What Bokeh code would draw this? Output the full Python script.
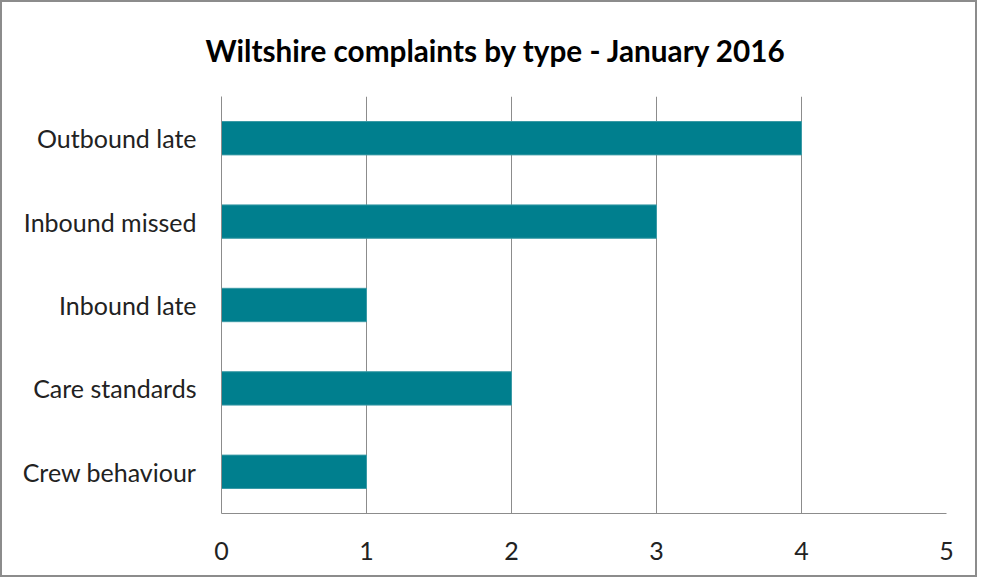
from bokeh.plotting import figure
from bokeh.embed import file_html
from bokeh.resources import INLINE
from bokeh.models import ColumnDataSource, Range1d, FixedTicker

title_text = "Wiltshire complaints  by type - January 2016"
categories = ["Crew behaviour", "Care standards", "Inbound late", "Inbound missed", "Outbound late"]
counts = [1, 2, 1, 3, 4]
x_ticks = [0, 1, 2, 3, 4, 5]

pos = list(range(len(categories)))
src = ColumnDataSource(dict(pos=pos, cat=categories, val=counts))

p = figure(width=977, height=577, output_backend="svg", toolbar_location=None,
           y_range=Range1d(-0.5, len(categories) - 0.5), x_range=Range1d(0, 5),
           title=title_text)
p.min_border_left = 219
p.min_border_right = 33
p.min_border_bottom = 66
p.min_border_top = 94

p.title.align = "left"
p.title.offset = -16
p.title.standoff = 57
p.title.text_font = "Lato"
p.title.text_font_size = "29.7px"
p.title.text_font_style = "bold"
p.title.text_color = "#000000"

p.hbar(y="pos", right="val", left=0, height=0.4, source=src,
       fill_color="#007F8E", line_color="#3a9aa6", line_width=1)

p.outline_line_color = None
p.xgrid.ticker = FixedTicker(ticks=x_ticks)
p.xgrid.grid_line_color = "#8c8c8c"
p.ygrid.grid_line_color = None
p.xaxis.ticker = FixedTicker(ticks=x_ticks)
p.xaxis.axis_line_color = "#8c8c8c"
p.xaxis.major_tick_line_color = None
p.xaxis.minor_tick_line_color = None
p.xaxis.major_label_standoff = 22
p.xaxis.major_label_text_font = "Lato"
p.xaxis.major_label_text_font_size = "25px"
p.xaxis.major_label_text_color = "#222222"

p.yaxis.ticker = FixedTicker(ticks=pos)
p.yaxis.major_label_overrides = {i: c for i, c in zip(pos, categories)}
p.yaxis.axis_line_color = "#8c8c8c"
p.yaxis.major_tick_line_color = None
p.yaxis.minor_tick_line_color = None
p.yaxis.major_label_standoff = 19
p.yaxis.major_label_text_font = "Lato"
p.yaxis.major_label_text_font_size = "25px"
p.yaxis.major_label_text_color = "#222222"

p.styles = {"border": "2px solid #8c8c8c", "box-sizing": "border-box"}

open("out.html", "w").write(file_html(p, INLINE))
